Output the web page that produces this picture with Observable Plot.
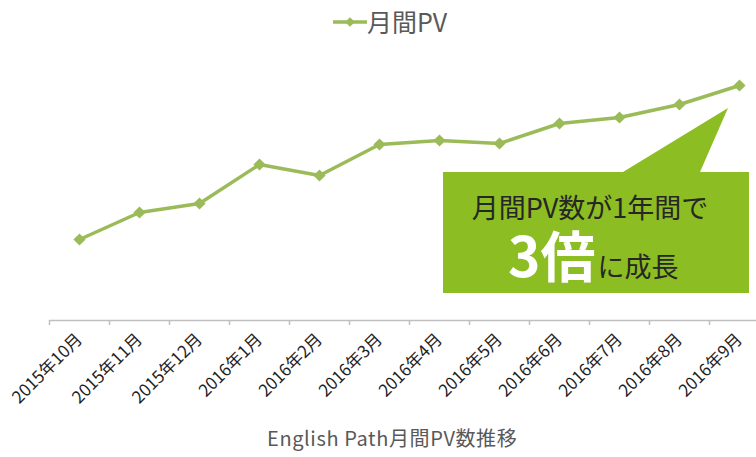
<!DOCTYPE html>
<html><head><meta charset="utf-8">
<script src="https://cdn.jsdelivr.net/npm/d3@7"></script>
<script src="https://cdn.jsdelivr.net/npm/@observablehq/plot@0.6"></script>
<style>
body{margin:0;background:#fff;font-family:"Noto Sans CJK JP","Noto Sans",sans-serif;width:756px;height:457px;position:relative;overflow:hidden}
#legend{height:45px;position:relative}
#caption{height:37px;position:relative}
</style></head>
<body>
<div id="legend"></div>
<div id="chart"></div>
<div id="caption"></div>
<script>
const months = ["2015年10月","2015年11月","2015年12月","2016年1月","2016年2月","2016年3月","2016年4月","2016年5月","2016年6月","2016年7月","2016年8月","2016年9月"];
const pv = [81,108,117,156,145,176,180,177,197,203,216,235];
const seriesName = "月間PV";
const captionText = "English Path月間PV数推移";
const calloutLine1 = "月間PV数が1年間で";
const calloutBig = "3倍";
const calloutRest = "に成長";

const lineColor = "#9bbb59";
const data = months.map((m, i) => ({i, m, v: pv[i]}));

const chart = Plot.plot({
  width: 756, height: 375,
  marginLeft: 49, marginRight: -13, marginTop: 25, marginBottom: 100,
  style: {fontFamily: "'Noto Sans CJK JP', sans-serif", background: "transparent"},
  x: {type: "linear", domain: [-0.5, months.length - 0.5], axis: null},
  y: {domain: [0, 250], axis: null},
  marks: [
    Plot.ruleY([0], {stroke: "#bfbfbf", strokeWidth: 1.5}),
    Plot.axisX(d3.range(months.length + 1).map(i => i - 0.5), {tickSize: 5, tickFormat: () => "", stroke: "#bfbfbf", strokeWidth: 1.5, label: null}),
    Plot.axisX(d3.range(months.length), {tickSize: 0, tickRotate: -45, tickPadding: 16, tickFormat: i => months[i], fontSize: 17, fill: "#1f1f1f", label: null}),
    Plot.line(data, {x: "i", y: "v", stroke: lineColor, strokeWidth: 3.5}),
    Plot.dot(data, {x: "i", y: "v", symbol: "diamond2", r: 5.5, fill: lineColor})
  ]
});
document.getElementById("chart").appendChild(chart);

// legend
const lg = d3.select("#legend");
const ls = lg.append("svg").attr("width", 40).attr("height", 20)
  .style("position", "absolute").style("left", "331px").style("top", "12px");
ls.append("line").attr("x1", 2).attr("x2", 36).attr("y1", 10).attr("y2", 10).attr("stroke", lineColor).attr("stroke-width", 3.5);
ls.append("path").attr("d", d3.symbol(d3.symbolDiamond2, 60)()).attr("transform", "translate(19,10)").attr("fill", lineColor);
lg.append("div").text(seriesName)
  .style("position", "absolute").style("left", "367px").style("top", "3px")
  .style("font-size", "25px").style("color", "#595959").style("line-height", "36px");

// caption
d3.select("#caption").append("div").text(captionText)
  .style("position", "absolute").style("left", "267px").style("top", "3px")
  .style("font-size", "20px").style("letter-spacing", "0.6px").style("color", "#595959").style("white-space", "nowrap").style("line-height", "30px");

// callout overlay
const ov = d3.select("body").append("svg").attr("width", 756).attr("height", 457)
  .style("position", "absolute").style("left", 0).style("top", 0).style("pointer-events", "none");
ov.append("polygon")
  .attr("points", "443,172 623,172 728,108 700,172 749,172 749,293 443,293")
  .attr("fill", "#8cbd22");
ov.append("text").text(calloutLine1)
  .attr("x", 590).attr("y", 218).attr("text-anchor", "middle")
  .attr("font-size", 27).attr("fill", "#262626").attr("font-family", "'Noto Sans CJK JP', sans-serif");
const t2 = ov.append("text").attr("x", 508).attr("y", 277).attr("font-family", "'Noto Sans CJK JP', sans-serif");
t2.append("tspan").text(calloutBig).attr("font-size", 55).attr("font-weight", "bold").attr("fill", "#ffffff");
t2.append("tspan").text(calloutRest).attr("font-size", 27).attr("fill", "#262626").attr("dx", 2);
</script>
</body></html>
